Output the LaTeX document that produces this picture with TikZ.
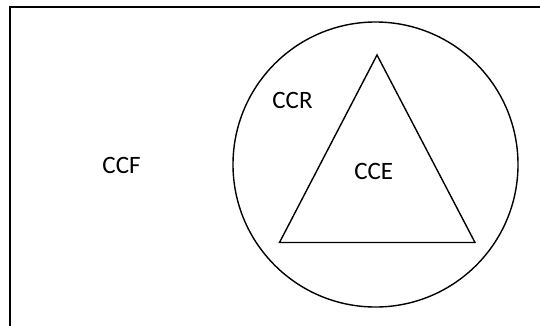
\documentclass[tikz,border=0pt]{standalone}
\usepackage{fontspec}
\setmainfont{Carlito}
\usepackage{tikz}
\usetikzlibrary{positioning,calc}

\begin{document}
\begin{tikzpicture}[x=1pt,y=-1pt, every node/.style={font=\fontsize{25}{30}\selectfont, inner sep=0pt}]
  \useasboundingbox (0,0) rectangle (540,325);
  \clip (0,0) rectangle (540,325);
  % outer frame (runs past the right and bottom edges)
  \draw[line width=2pt] (10,345) -- (10,6.5) -- (560,6.5);
  % circle and triangle
  \draw[line width=1.4pt] (375.5,164.5) circle[radius=142.5];
  \draw[line width=1.4pt] (377,55) -- (279.5,242.5) -- (475,242.5) -- cycle;
  \node (ccf) at (121.5,165.5) {CCF};
  \node (ccr) at (292.5,100.5) {CCR};
  \node (cce) at (373.7,171) {CCE};
\end{tikzpicture}
\end{document}
